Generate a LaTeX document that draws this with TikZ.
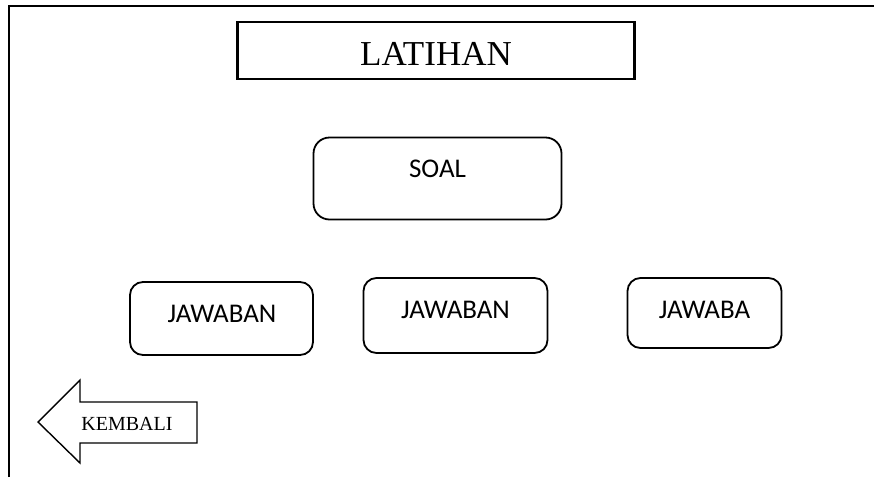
\documentclass[tikz,border=0pt]{standalone}
\usepackage{fontspec}
\setmainfont{Liberation Serif}
\newfontfamily\boxfont{Carlito}
\begin{document}
\begin{tikzpicture}[x=1pt,y=-1pt,
  frameline/.style={line width=2pt},
  titlebox/.style={draw,line width=2.4pt,minimum width=397pt,minimum height=57pt,inner sep=0pt},
  roundbox/.style={draw,line width=1.8pt,rounded corners=13pt,inner sep=0pt},
  boxtext/.style={font=\boxfont\fontsize{27}{32}\selectfont,inner sep=0pt},
  arrowshape/.style={draw,line width=1.4pt,line join=miter}
]
\useasboundingbox (0,0) rectangle (874,477);
% frame
\coordinate (fbl) at (9,477);
\coordinate (ftl) at (9,6);
\coordinate (ftr) at (874,6);
\draw[frameline] (fbl) -- (ftl) -- (ftr);
% title
\node[titlebox] (title) at (436,50.5) {};
\node[font=\fontsize{35}{40}\selectfont,inner sep=0pt] (titletext) at (436,53.5) {LATIHAN};
% soal
\node[roundbox,minimum width=248pt,minimum height=82pt,rounded corners=16pt] (soal) at (437.5,178.5) {};
\node[boxtext] (soaltext) at (437.5,169) {SOAL};
% jawaban
\node[roundbox,minimum width=183pt,minimum height=73pt] (j1) at (221.5,318.5) {};
\node[boxtext] (j1text) at (222,314) {JAWABAN};
\node[roundbox,minimum width=184pt,minimum height=75pt] (j2) at (455.5,315.5) {};
\node[boxtext] (j2text) at (455.5,310) {JAWABAN};
\node[roundbox,minimum width=154pt,minimum height=70pt] (j3) at (704.5,313) {};
\node[boxtext] (j3text) at (704.5,310) {JAWABA};
% kembali arrow
\draw[arrowshape] (197,402) -- (80,402) -- (80,380) -- (38,422) -- (80,463) -- (80,443) -- (197,443) -- cycle;
\node[font=\fontsize{20}{24}\selectfont,inner sep=0pt] (kembali) at (127,424) {KEMBALI};
\end{tikzpicture}
\end{document}
